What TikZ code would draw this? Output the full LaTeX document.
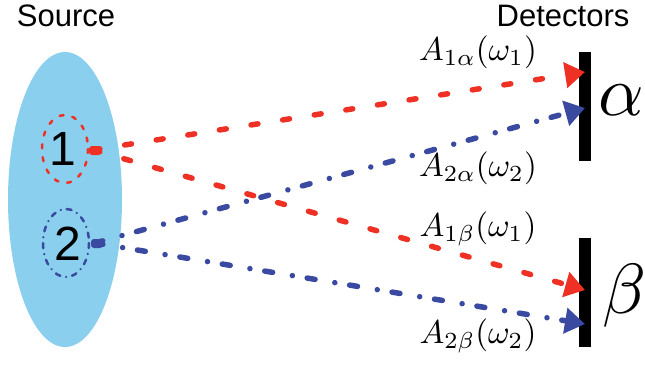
\documentclass[tikz,border=0pt]{standalone}
\usepackage{fontspec}
\setsansfont{Liberation Sans}
\usetikzlibrary{arrows.meta}
\definecolor{myred}{HTML}{EE3124}
\definecolor{myblue}{HTML}{3A4AA0}
\definecolor{srcblue}{HTML}{8BCFEE}
\tikzset{
  redray/.style={myred, line width=5.5pt, line cap=round, dash pattern=on 7pt off 25pt, -{Triangle[length=20pt,width=25pt]}},
  blueray/.style={myblue, line width=5.5pt, line cap=round, dash pattern=on 8pt off 20pt on 0.01pt off 15pt, -{Triangle[length=20pt,width=25pt]}},
  sflabel/.style={font=\sffamily\fontsize{31}{35}\selectfont, inner sep=0pt},
  numlabel/.style={font=\sffamily\fontsize{48}{52}\selectfont, inner sep=0pt},
  amp/.style={font=\fontsize{10}{12}\selectfont, scale=3.3, inner sep=0pt},
  greek/.style={font=\fontsize{10}{12}\selectfont, scale=7.1, inner sep=0pt},
  bar/.style={fill=black, draw=none}
}
\begin{document}
\begin{tikzpicture}[x=1pt,y=-1pt]
\useasboundingbox (0,0) rectangle (645,364);
% source
\node[sflabel] (srclab) at (66,16) {Source};
\node[sflabel] (detlab) at (563,16) {Detectors};
\fill[srcblue] (65,199.5) ellipse [x radius=57, y radius=147.5];
\node[numlabel] (n1) at (63,149) {1};
\node[numlabel] (n2) at (68,244) {2};
\draw[myred, line width=2.5pt, dash pattern=on 4pt off 9pt, line cap=round] (65,149) ellipse [x radius=23, y radius=34];
\draw[myblue, line width=2.5pt, dash pattern=on 5pt off 6pt on 0.01pt off 6pt, line cap=round] (66,243) ellipse [x radius=23, y radius=34];
% detectors
\fill[bar] (579,52) rectangle (591,161);
\fill[bar] (579,238) rectangle (591,347);
\node[greek] (al) at (621,100) {$\alpha$};
\node[greek] (be) at (624,296) {$\beta$};
% coordinates
\coordinate (s1) at (93,150);
\coordinate (s2) at (95,243);
\coordinate (t1a) at (585,72);
\coordinate (t2a) at (585,108);
\coordinate (t1b) at (585,290);
\coordinate (t2b) at (585,324);
\fill[myred, rounded corners=3pt] (89,146) rectangle (101,155);
\fill[myblue, rounded corners=3pt] (91,239) rectangle (103,248);
\draw[redray] (s1) -- (t1a);
\draw[redray] (s1) -- (t1b);
\draw[blueray] (s2) -- (t2a);
\draw[blueray] (s2) -- (t2b);
% amplitude labels
\node[amp] (l1a) at (478,52) {$A_{1\alpha}(\omega_1)$};
\node[amp] (l2a) at (478,168) {$A_{2\alpha}(\omega_2)$};
\node[amp] (l1b) at (478,229) {$A_{1\beta}(\omega_1)$};
\node[amp] (l2b) at (478,336) {$A_{2\beta}(\omega_2)$};
\end{tikzpicture}
\end{document}
